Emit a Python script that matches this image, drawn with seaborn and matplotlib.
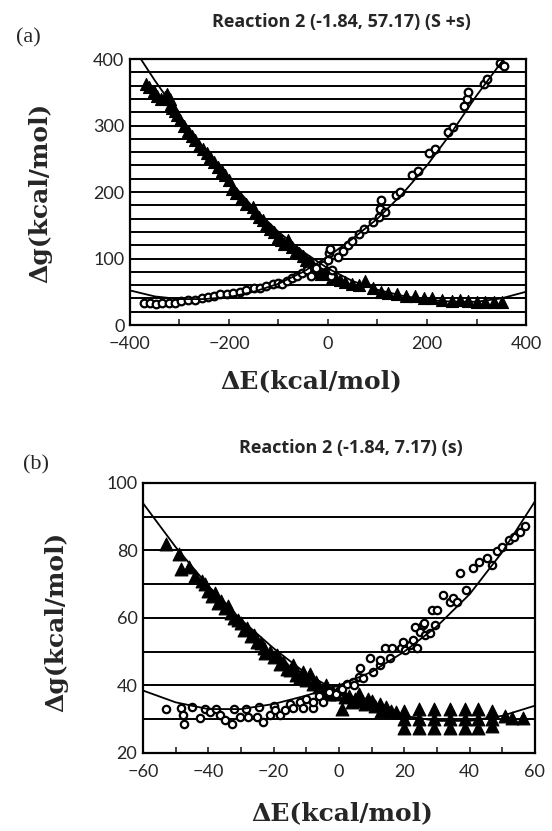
import numpy as np
import pandas as pd
import matplotlib
matplotlib.use("Agg")
import matplotlib.pyplot as plt
from matplotlib.ticker import MultipleLocator
import seaborn as sns

sns.set_style("white")
plt.rcParams['font.family'] = ['Lato', 'DejaVu Sans']

# ---------- panel (a): Reaction 2 (-1.84, 57.17) (S +s) ----------
curve_a_x = [-400, -350, -300, -250, -200, -150, -100, -50, 0, 50, 100, 150, 200, 250, 300, 350, 400]
curve_a_down = [425, 368, 315, 265, 218, 176, 140, 110, 85, 66, 53, 44, 38, 35, 35, 40, 50]
curve_a_up = [52, 43, 39, 39, 42, 50, 62, 80, 103, 130, 160, 197, 240, 290, 345, 395, 450]

tri_a_x = [-368, -362, -352, -345, -338, -330, -325, -320, -318, -315, -310, -305, -298, -290,
           -282, -275, -268, -260, -252, -245, -238, -230, -222, -215, -208, -200, -193, -186,
           -175, -165, -152, -148, -140, -132, -125, -118, -110, -102, -95, -88, -80, -72, -65,
           -58, -50, -45, -38, -32, -28, -22, -15, -8, 0, 8, 15, 25, 35, 48, 62, 75, 90, 107,
           122, 139, 158, 176, 193, 210, 230, 250, 266, 282, 300, 317, 335, 352]
tri_a_g = [362, 358, 352, 345, 340, 343, 348, 340, 332, 326, 322, 316, 308, 300,
           292, 285, 278, 270, 264, 258, 252, 245, 238, 232, 226, 218, 205, 198,
           190, 182, 178, 168, 162, 158, 150, 145, 140, 132, 128, 122, 128, 118, 112,
           108, 104, 98, 96, 92, 86, 80, 76, 88, 78, 70, 72, 68, 64, 62, 60, 66, 56, 50,
           48, 46, 44, 43, 41, 40, 38, 36, 37, 36, 35, 35, 35, 35]

circ_a_x = [-372, -360, -348, -336, -322, -310, -296, -282, -268, -255, -242, -230, -218, -205,
            -192, -178, -165, -150, -138, -125, -112, -100, -92, -82, -72, -62, -52, -42, -35,
            -25, -10, 0, 3, 5, 6, 8, 20, 30, 40, 48, 62, 72, 90, 104, 106, 108, 115, 138, 146,
            170, 182, 205, 216, 242, 252, 275, 280, 283, 315, 322, 348, 355]
circ_a_g = [33, 33, 32, 33, 33, 33, 36, 38, 38, 40, 42, 43, 46, 46,
            48, 50, 52, 55, 56, 58, 61, 63, 62, 66, 70, 74, 78, 82, 74,
            86, 90, 98, 108, 114, 74, 82, 103, 112, 121, 126, 137, 145, 155, 163, 175, 188, 170, 196, 200,
            226, 232, 258, 264, 290, 298, 330, 340, 350, 363, 370, 394, 390]

# ---------- panel (b): Reaction 2 (-1.84, 7.17) (s) ----------
curve_b_x = [-60, -50, -40, -30, -20, -10, 0, 10, 20, 30, 40, 50, 60]
curve_b_down = [94, 81, 69.5, 59.5, 51, 43.5, 38, 34, 31, 29.5, 29.5, 31, 34]
curve_b_up = [38.5, 35, 33, 33, 34.5, 37, 40, 44, 50, 57.5, 67, 79.5, 94.5]

tri_b_x = [-53, -49, -48.5, -46, -44, -42, -41, -40, -39, -38, -37, -36, -35, -34, -33, -32,
           -31, -30, -29, -28, -27, -26, -25, -24, -23, -22.5, -21, -20, -19, -18, -17, -16,
           -15, -14, -13, -12, -11, -10, -9, -8, -7, -6, -5, -4, -3, -2, -1, 0, 1, 2, 3, 4,
           5, 6, 7, 8, 9, 10, 11, 12.5, 13, 14.5, 16, 17.5,
           20, 20, 20, 24.5, 24.5, 24.5, 29, 29, 29, 34, 34, 34, 38.5, 38.5, 38.5,
           42.5, 42.5, 42.5, 47, 47, 47, 51, 53, 56.5]
tri_b_g = [82, 79, 74.5, 75, 72.5, 71, 70, 68, 66.5, 67.5, 64.5, 65, 63, 63.5, 61.5, 60,
           59.5, 58.5, 56.5, 57, 54.5, 55, 53, 52.5, 51, 49.5, 50, 48.5, 49, 46.5, 47, 45,
           44.5, 46, 43, 42.5, 44, 41.5, 43.5, 40.5, 41, 39.5, 38.5, 40, 37.5, 38.5, 37.5, 39, 33, 36.5, 37, 35,
           36, 37.5, 35.5, 34.5, 36, 35.5, 34, 34.5, 32.5, 33.5, 32.5, 32,
           27.5, 30, 32.5, 27.5, 30, 33, 27.5, 30, 33, 27.5, 30, 33, 27.5, 30, 33,
           27.5, 30, 33, 28, 30, 32.5, 31, 30.5, 30.5]

circ_b_x = [-53, -48.5, -47.7, -47.4, -45, -42.5, -41, -39.5, -37.5, -36.4, -34.9, -32.8, -32,
            -30.3, -28.5, -27.9, -25.1, -24.5, -23.3, -21.1, -20, -19.6, -18.1, -16.5, -15,
            -14.1, -12, -11, -10, -8, -8, -6, -4.9, -3, -1, 1, 2.5, 4.3, 4.6, 6.2, 6.4, 7.3,
            9.5, 10.4, 12.5, 12.6, 14.2, 15.6, 16.2, 19, 19.6, 20.2, 21.7, 22.7, 23.3, 23.9,
            24.8, 25.7, 25.9, 26.5, 27.9, 28.6, 29.4, 30, 31.8, 34, 35, 36, 37.2, 38.8, 40.9,
            43, 45.2, 46.8, 48.4, 50, 52.1, 53.7, 55.3, 56.9]
circ_b_g = [33, 33.3, 31.3, 28.6, 33.5, 30.4, 33, 32.2, 33, 31.3, 29.8, 28.6, 33,
            30.7, 33, 30.7, 30.7, 33.5, 29.2, 31.3, 34, 32.7, 31.3, 32.7, 34.5,
            33.3, 35, 33.3, 36, 33.3, 35.1, 37, 35.1, 38, 37.5, 39, 40.5, 41, 40.1, 42.6, 45.2, 42.2,
            48.1, 44, 46, 47.6, 51, 48.1, 51.1, 51, 52.9, 50.5, 52, 53.5, 57.4, 51.1,
            55.9, 57.9, 58.4, 54.9, 55.6, 62.4, 57.9, 62.4, 66.8, 64.7, 65.8, 64.8, 73.2, 68.3, 74.7,
            76.7, 77.7, 75.7, 79.7, 81.1, 83.1, 84.1, 85.6, 87.1]

fig = plt.figure(figsize=(5.52, 8.31), dpi=100)
ax_a = fig.add_axes([0.2355, 0.6089, 0.7174, 0.320])
ax_b = fig.add_axes([0.259, 0.0939, 0.710, 0.325])


def draw_panel(ax, cx, down, up, tx, tg, ox, og, tri_s, circ_s):
    sns.scatterplot(x=tx, y=tg, ax=ax, marker='^', color='black', edgecolor='black',
                    s=tri_s, linewidth=0.8, zorder=3, legend=False)
    sns.scatterplot(x=ox, y=og, ax=ax, marker='o', color='white', edgecolor='black',
                    s=circ_s, linewidth=1.6, zorder=4, legend=False)
    sns.lineplot(x=cx, y=down, ax=ax, color='black', lw=1.3, estimator=None, sort=False, zorder=5)
    sns.lineplot(x=cx, y=up, ax=ax, color='black', lw=1.3, estimator=None, sort=False, zorder=5)
    for sp in ax.spines.values():
        sp.set_color('black')
        sp.set_linewidth(1.6)
    ax.tick_params(axis='x', which='both', direction='in', bottom=True, top=False,
                   length=4, width=1.2, pad=8, labelsize=13)
    ax.tick_params(axis='y', which='both', left=False, length=0, pad=4, labelsize=13)
    ax.grid(which='both', axis='y', color='black', lw=1.4)
    ax.set_axisbelow(True)
    ax.set_xlabel('')
    ax.set_ylabel('')


draw_panel(ax_a, curve_a_x, curve_a_down, curve_a_up, tri_a_x, tri_a_g, circ_a_x, circ_a_g, 75, 30)
ax_a.set_xlim(-400, 400)
ax_a.set_ylim(0, 400)
ax_a.xaxis.set_major_locator(MultipleLocator(200))
ax_a.xaxis.set_minor_locator(MultipleLocator(100))
ax_a.yaxis.set_major_locator(MultipleLocator(100))
ax_a.yaxis.set_minor_locator(MultipleLocator(20))

draw_panel(ax_b, curve_b_x, curve_b_down, curve_b_up, tri_b_x, tri_b_g, circ_b_x, circ_b_g, 85, 28)
ax_b.set_xlim(-60, 60)
ax_b.set_ylim(20, 100)
ax_b.xaxis.set_major_locator(MultipleLocator(20))
ax_b.xaxis.set_minor_locator(MultipleLocator(10))
ax_b.yaxis.set_major_locator(MultipleLocator(20))
ax_b.yaxis.set_minor_locator(MultipleLocator(10))

# titles, panel letters, axis labels
W, H = 552, 831
def put(px, py, s, **kw):
    fig.text(px / W, 1 - py / H, s, ha='center', va='center', **kw)

title = dict(fontsize=13, fontweight='bold', family='Open Sans')
put(341, 22, 'Reaction 2 (-1.84, 57.17) (S +s)', **title)
put(351, 448, 'Reaction 2 (-1.84, 7.17) (s)', **title)
put(28, 38, '(a)', fontsize=16, family='Liberation Serif')
put(36, 465, '(b)', fontsize=16, family='Liberation Serif')
lab = dict(fontsize=18, fontweight='bold', family='DejaVu Serif')
put(40, 193, '\u0394g(kcal/mol)', rotation=90, **lab)
put(311, 381, '\u0394E(kcal/mol)', **lab)
put(56, 622, '\u0394g(kcal/mol)', rotation=90, **lab)
put(342, 813, '\u0394E(kcal/mol)', **lab)

fig.savefig('out.png', dpi=100)
